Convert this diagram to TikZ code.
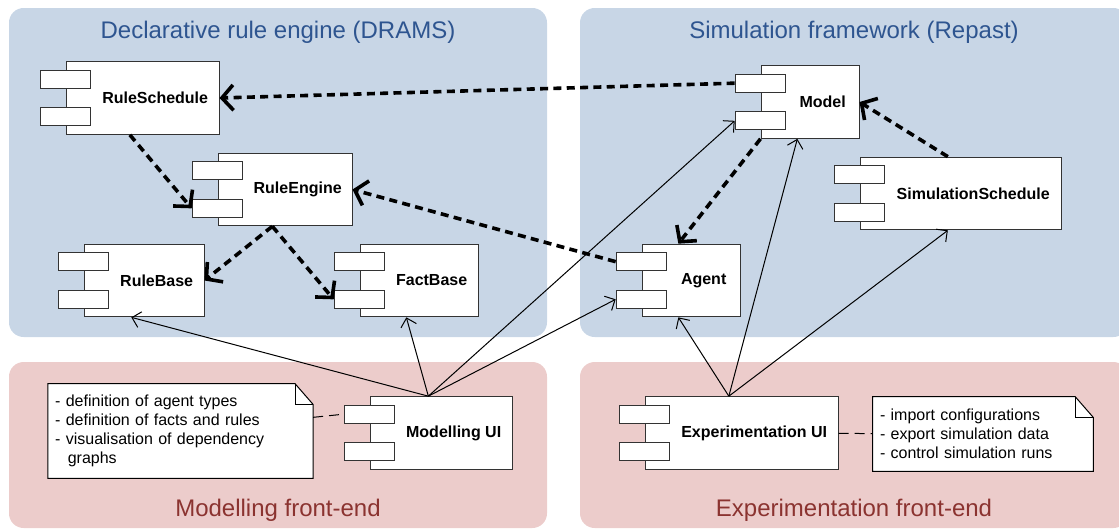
\documentclass[tikz,border=0pt]{standalone}
\usepackage{fontspec}
\setmainfont{Liberation Sans}
\usepackage{tikz}
\usetikzlibrary{arrows.meta,positioning,backgrounds}
\definecolor{engineblue}{HTML}{C8D6E6}
\definecolor{frontpink}{HTML}{ECCCCB}
\definecolor{headblue}{HTML}{2E5590}
\definecolor{headred}{HTML}{8B3330}
\definecolor{compline}{HTML}{333333}

\begin{document}
\begin{tikzpicture}[
    x=0.75pt, y=-0.75pt,
    panel/.style={rounded corners=11pt},
    heading/.style={font=\fontsize{18}{20}\selectfont, inner sep=0pt},
    comp/.style={rectangle, draw=compline, fill=white, line width=0.75pt, minimum height=54.5pt, inner sep=0pt,
        label={[font=\bfseries\fontsize{12}{14}\selectfont, xshift=9.5pt]center:#1}},
    comptab/.style={rectangle, draw=compline, fill=white, line width=0.75pt, minimum width=38pt, minimum height=13.5pt, inner sep=0pt},
    notebox/.style={rectangle, align=left, font=\fontsize{12}{14.25}\selectfont, inner xsep=5.25pt, inner ysep=0pt},
    notepaper/.style={draw, fill=white, line width=0.75pt},
    dep/.style={-{Straight Barb[length=8.5pt,width=19pt]}, line width=2.7pt, dash pattern=on 6pt off 4pt},
    uses/.style={-{Straight Barb[length=6pt,width=12pt]}, line width=0.75pt},
    notelink/.style={line width=0.75pt, dash pattern=on 7.5pt off 4.5pt}
]
\useasboundingbox (0,0) rectangle (1119,529);

% panels
\begin{scope}[on background layer]
\fill[engineblue, panel] (9,8) rectangle (547,337);
\fill[engineblue, panel] (580,8) rectangle (1128,337);
\fill[frontpink, panel] (9,362) rectangle (547,528);
\fill[frontpink, panel] (580,362) rectangle (1128,528);
\end{scope}
\node[heading, text=headblue] (enginehead) at (278,32) {Declarative rule engine (DRAMS)};
\node[heading, text=headblue] (simhead) at (854,32) {Simulation framework (Repast)};
\node[heading, text=headred] (modhead) at (278,510) {Modelling front-end};
\node[heading, text=headred] (exphead) at (854,510) {Experimentation front-end};

% components
\node[comp=RuleSchedule, minimum width=114.75pt] (rulesched) at (142.5,98) {};
\node[comp=RuleEngine, minimum width=100.5pt] (ruleengine) at (285,189.5) {};
\node[comp=RuleBase, minimum width=90pt] (rulebase) at (144,280.5) {};
\node[comp=FactBase, minimum width=88.5pt] (factbase) at (419,280.5) {};
\node[comp=Model, minimum width=73.5pt] (model) at (810,102) {};
\node[comp=SimulationSchedule, minimum width=150.75pt] (simsched) at (960.5,193.5) {};
\node[comp=Agent, minimum width=73.5pt] (agent) at (691,280.5) {};
\node[comp=Modelling UI, minimum width=106.5pt] (modui) at (441,433) {};
\node[comp=Experimentation UI, minimum width=144.75pt] (expui) at (741.5,433) {};
\foreach \c in {rulesched,ruleengine,rulebase,factbase,model,simsched,agent,modui,expui} {
    \node[comptab] (\c-t1) at ([yshift=-13.5pt]\c.north west) {};
    \node[comptab] (\c-t2) at ([yshift=13.5pt]\c.south west) {};
}

% notes
\node[notebox, text width=188pt, minimum height=70.5pt] (modnote) at (180.5,431)
    {- definition of agent types\\- definition of facts and rules\\- visualisation of dependency\\\hspace*{9.5pt}graphs};
\node[notebox, text width=154.5pt, minimum height=55.5pt] (expnote) at (983,434)
    {- import configurations\\- export simulation data\\- control simulation runs};
\begin{scope}[on background layer]
\foreach \n in {modnote,expnote} {
    \draw[notepaper] (\n.south west) -- (\n.south east) -- ([yshift=-15.5pt]\n.north east)
        -- ([xshift=-13.5pt]\n.north east) -- (\n.north west) -- cycle;
    \draw[line width=0.75pt] ([xshift=-13.5pt]\n.north east) -- ++(0,-15.5pt) -- ([yshift=-15.5pt]\n.north east);
}
\end{scope}
\draw[notelink] (modnote) -- (modui-t1.west);
\draw[notelink] (expui) -- (expnote);

% dependencies
\draw[dep] (model-t1.west) -- (rulesched.east);
\draw[dep] ([xshift=-9.5pt]rulesched.south) -- (ruleengine-t2.west);
\draw[dep] ([xshift=-9.5pt]ruleengine.south) -- (rulebase.east);
\draw[dep] ([xshift=-9.5pt]ruleengine.south) -- (factbase-t2.west);
\draw[dep] (agent-t1.west) -- (ruleengine.east);
\draw[dep] (model.south west) -- ([xshift=-9.5pt]agent.north);
\draw[dep] ([xshift=-9.5pt]simsched.north) -- (model.east);

% front-end links
\draw[uses] ([xshift=-9.5pt]modui.north) -- ([xshift=-9.5pt]rulebase.south);
\draw[uses] ([xshift=-9.5pt]modui.north) -- ([xshift=-9.5pt]factbase.south);
\draw[uses] ([xshift=-9.5pt]modui.north) -- (model-t2.west);
\draw[uses] ([xshift=-9.5pt]modui.north) -- (agent-t2.west);
\draw[uses] ([xshift=-9.5pt]expui.north) -- ([xshift=-9.5pt]agent.south);
\draw[uses] ([xshift=-9.5pt]expui.north) -- ([xshift=-9.5pt]model.south);
\draw[uses] ([xshift=-9.5pt]expui.north) -- ([xshift=-9.5pt]simsched.south);
\end{tikzpicture}
\end{document}
